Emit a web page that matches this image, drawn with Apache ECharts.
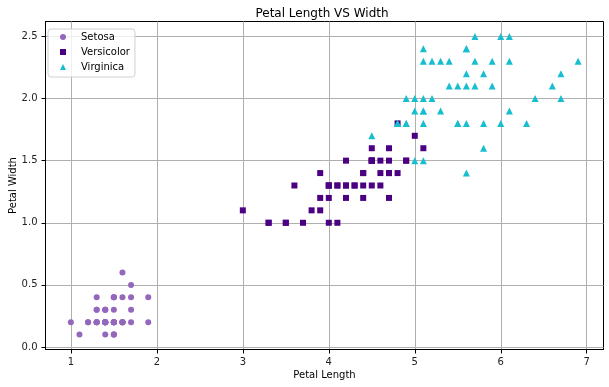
<!DOCTYPE html>
<html><head><meta charset="utf-8">
<script src="https://cdn.jsdelivr.net/npm/echarts@6/dist/echarts.min.js"></script>
<style>html,body{margin:0;padding:0;background:#fff}#c{width:609px;height:387px}</style>
</head><body><div id="c"></div>
<script>
const seriesNames = ['Setosa', 'Versicolor', 'Virginica'];
const setosaLength = [1.4,1.4,1.3,1.5,1.4,1.7,1.4,1.5,1.4,1.5,1.5,1.6,1.4,1.1,1.2,1.5,1.3,1.4,1.7,1.5,1.7,1.5,1.0,1.7,1.9,1.6,1.6,1.5,1.4,1.6,1.6,1.5,1.5,1.4,1.5,1.2,1.3,1.5,1.3,1.5,1.3,1.3,1.3,1.6,1.9,1.4,1.6,1.4,1.5,1.4];
const setosaWidth  = [0.2,0.2,0.2,0.2,0.2,0.4,0.3,0.2,0.2,0.1,0.2,0.2,0.1,0.1,0.2,0.4,0.4,0.3,0.3,0.3,0.2,0.4,0.2,0.5,0.2,0.2,0.4,0.2,0.2,0.2,0.2,0.4,0.1,0.2,0.2,0.2,0.2,0.1,0.2,0.2,0.3,0.3,0.2,0.6,0.4,0.3,0.2,0.2,0.2,0.2];
const versicolorLength = [4.7,4.5,4.9,4.0,4.6,4.5,4.7,3.3,4.6,3.9,3.5,4.2,4.0,4.7,3.6,4.4,4.5,4.1,4.5,3.9,4.8,4.0,4.9,4.7,4.3,4.4,4.8,5.0,4.5,3.5,3.8,3.7,3.9,5.1,4.5,4.5,4.7,4.4,4.1,4.0,4.4,4.6,4.0,3.3,4.2,4.2,4.2,4.3,3.0,4.1];
const versicolorWidth  = [1.4,1.5,1.5,1.3,1.5,1.3,1.6,1.0,1.3,1.4,1.0,1.5,1.0,1.4,1.3,1.4,1.5,1.0,1.5,1.1,1.8,1.3,1.5,1.2,1.3,1.4,1.4,1.7,1.5,1.0,1.1,1.0,1.2,1.6,1.5,1.6,1.5,1.3,1.3,1.3,1.2,1.4,1.2,1.0,1.3,1.2,1.3,1.3,1.1,1.3];
const virginicaLength = [6.0,5.1,5.9,5.6,5.8,6.6,4.5,6.3,5.8,6.1,5.1,5.3,5.5,5.0,5.1,5.3,5.5,6.7,6.9,5.0,5.7,4.9,6.7,4.9,5.7,6.0,4.8,4.9,5.6,5.8,6.1,6.4,5.6,5.1,5.6,6.1,5.6,5.5,4.8,5.4,5.6,5.1,5.1,5.9,5.7,5.2,5.0,5.2,5.4,5.1];
const virginicaWidth  = [2.5,1.9,2.1,1.8,2.2,2.1,1.7,1.8,1.8,2.5,2.0,1.9,2.1,2.0,2.4,2.3,1.8,2.2,2.3,1.5,2.3,2.0,2.0,1.8,2.1,1.8,1.8,1.8,2.1,1.6,1.9,2.0,2.2,1.5,1.4,2.3,2.4,1.8,1.8,2.1,2.4,2.3,1.9,2.3,2.5,2.3,1.9,2.0,2.3,1.8];
const xTicks = [1,2,3,4,5,6,7];
const yTicks = [0,0.5,1,1.5,2,2.5];

const zip = (a, b) => a.map((v, i) => [v, b[i]]);
const font = 'DejaVu Sans';
const chart = echarts.init(document.getElementById('c'), null, {renderer: 'canvas'});
const axisCommon = {
  axisLine: {show: true, onZero: false, lineStyle: {color: '#000', width: 1}},
  axisTick: {show: true, inside: false, length: 4, lineStyle: {color: '#000'}},
  axisLabel: {color: '#222', fontFamily: font, fontSize: 10},
  splitLine: {show: true, lineStyle: {color: '#b0b0b0', width: 1}},
  nameTextStyle: {color: '#000', fontFamily: font, fontSize: 10}
};
chart.setOption({
  animation: false,
  backgroundColor: '#fff',
  title: {text: 'Petal Length VS Width', left: 317, textAlign: 'center', top: 3,
    textStyle: {fontFamily: font, fontSize: 12, fontWeight: 'normal', color: '#000'}},
  grid: {left: 45.5, right: 5.5, top: 21.5, bottom: 37.5, containLabel: false, outerBoundsMode: 'none',
    show: true, borderColor: '#000', borderWidth: 1, backgroundColor: 'transparent'},
  legend: {orient: 'vertical', left: 48, top: 29, data: seriesNames,
    itemWidth: 6, itemHeight: 6, itemGap: 3,
    backgroundColor: 'rgba(255,255,255,0.8)', borderColor: '#d0d0d0', borderWidth: 1, borderRadius: 3,
    padding: [2, 5, 4, 12],
    textStyle: {fontFamily: font, fontSize: 10, lineHeight: 12, color: '#000', padding: [0, 0, 0, 10]}},
  xAxis: Object.assign({}, axisCommon, {type: 'value', min: 0.705, max: 7.195,
    name: 'Petal Length', nameLocation: 'middle', nameGap: 21, nameMoveOverlap: false,
    axisTick: Object.assign({}, axisCommon.axisTick, {customValues: xTicks}),
    axisLabel: Object.assign({}, axisCommon.axisLabel, {customValues: xTicks, formatter: v => String(v)})}),
  yAxis: Object.assign({}, axisCommon, {type: 'value', min: -0.02, max: 2.62,
    name: 'Petal Width', nameLocation: 'middle', nameGap: 27, nameRotate: 90, nameMoveOverlap: false,
    axisTick: Object.assign({}, axisCommon.axisTick, {customValues: yTicks}),
    axisLabel: Object.assign({}, axisCommon.axisLabel, {customValues: yTicks, formatter: v => v.toFixed(1)})}),
  series: [
    {name: 'Setosa', type: 'scatter', symbol: 'circle', symbolSize: 6,
     itemStyle: {color: '#9467bd', opacity: 1}, data: zip(setosaLength, setosaWidth)},
    {name: 'Versicolor', type: 'scatter', symbol: 'rect', symbolSize: 6,
     itemStyle: {color: '#4b0082', opacity: 1}, data: zip(versicolorLength, versicolorWidth)},
    {name: 'Virginica', type: 'scatter', symbol: 'triangle', symbolSize: 7,
     itemStyle: {color: '#17becf', opacity: 1}, data: zip(virginicaLength, virginicaWidth)}
  ]
});
</script></body></html>
